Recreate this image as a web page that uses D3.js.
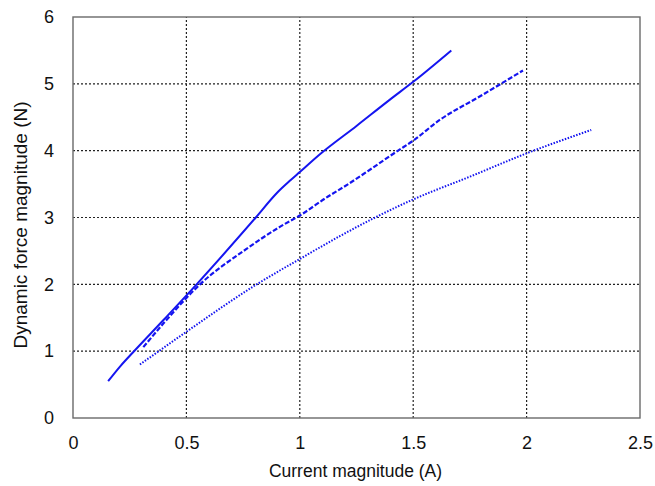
<!DOCTYPE html>
<html>
<head>
<meta charset="utf-8">
<script src="https://cdn.jsdelivr.net/npm/d3@7"></script>
<style>
  html, body { margin: 0; padding: 0; background: #fff; }
  svg { display: block; font-family: Arial, "Liberation Sans", sans-serif; }
</style>
</head>
<body>
<svg id="chart" width="655" height="486"></svg>
<script>
// Dynamic force versus current magnitude, three measured curves
const xTicks = [0, 0.5, 1, 1.5, 2, 2.5];
const yTicks = [0, 1, 2, 3, 4, 5, 6];

const solidCurrent = [0.155, 0.21, 0.264, 0.4, 0.545, 0.806, 0.9, 0.96, 1.0, 1.09, 1.25, 1.396, 1.5, 1.668];
const solidForce   = [0.55, 0.78, 0.98, 1.47, 2.0, 3.0, 3.37, 3.56, 3.68, 3.95, 4.37, 4.76, 5.03, 5.5];

const dashedCurrent = [0.31, 0.4, 0.56, 0.765, 0.912, 1.0, 1.132, 1.176, 1.433, 1.5, 1.617, 1.793, 1.984];
const dashedForce   = [1.06, 1.42, 2.0, 2.53, 2.86, 3.03, 3.33, 3.42, 4.0, 4.15, 4.46, 4.81, 5.2];

const dottedCurrent = [0.295, 0.5, 0.81, 1.0, 1.176, 1.338, 1.5, 1.749, 2.0, 2.285];
const dottedForce   = [0.80, 1.29, 2.0, 2.38, 2.72, 3.01, 3.27, 3.61, 3.96, 4.31];

const svg = d3.select("#chart");
const margin = { left: 73, right: 15, top: 17, bottom: 68 };
const W = 655, H = 486;

const x = d3.scaleLinear().domain([0, 2.5]).range([margin.left, W - margin.right]);
const y = d3.scaleLinear().domain([0, 6]).range([H - margin.bottom, margin.top]);

// dotted grid
const grid = svg.append("g").attr("stroke", "#222").attr("stroke-width", 1.2).attr("stroke-dasharray", "2,2");
grid.selectAll("line.vx").data(xTicks.slice(1, -1)).join("line")
  .attr("x1", d => x(d)).attr("x2", d => x(d))
  .attr("y1", y(0)).attr("y2", y(6));
grid.selectAll("line.hy").data(yTicks.slice(1, -1)).join("line")
  .attr("x1", x(0)).attr("x2", x(2.5))
  .attr("y1", d => y(d)).attr("y2", d => y(d));

// axes with labels only; the frame is drawn separately
const xAxis = svg.append("g").attr("transform", `translate(0,${y(0)})`)
  .call(d3.axisBottom(x).tickValues(xTicks).tickSize(0).tickPadding(18).tickFormat(d3.format("")));
const yAxis = svg.append("g").attr("transform", `translate(${x(0)},0)`)
  .call(d3.axisLeft(y).tickValues(yTicks).tickSize(0).tickPadding(19).tickFormat(d3.format("")));
[xAxis, yAxis].forEach(a => {
  a.select(".domain").remove();
  a.selectAll("text").attr("font-size", "18px").attr("fill", "#111")
    .attr("font-family", "Arial, 'Liberation Sans', sans-serif");
});

// plot frame
svg.append("rect")
  .attr("x", x(0)).attr("y", y(6))
  .attr("width", x(2.5) - x(0)).attr("height", y(0) - y(6))
  .attr("fill", "none").attr("stroke", "#6a6a6a").attr("stroke-width", 1.4);

// curves
const line = d3.line().x(d => x(d[0])).y(d => y(d[1])).curve(d3.curveMonotoneX);
const series = [
  { xs: solidCurrent, ys: solidForce, dash: null, width: 2 },
  { xs: dashedCurrent, ys: dashedForce, dash: "5,2", width: 2.2 },
  { xs: dottedCurrent, ys: dottedForce, dash: "1.5,1.5", width: 2 }
];
series.forEach(s => {
  svg.append("path")
    .datum(s.xs.map((v, i) => [v, s.ys[i]]))
    .attr("d", line)
    .attr("fill", "none")
    .attr("stroke", "#1515f0")
    .attr("stroke-width", s.width)
    .attr("stroke-dasharray", s.dash);
});

// axis titles
svg.append("text")
  .attr("x", 355.5).attr("y", 476.5)
  .attr("text-anchor", "middle")
  .attr("font-size", "17.5px").attr("fill", "#111")
  .text("Current magnitude (A)");
svg.append("text")
  .attr("transform", "translate(27,225) rotate(-90)")
  .attr("text-anchor", "middle")
  .attr("font-size", "19px").attr("fill", "#111")
  .text("Dynamic force magnitude (N)");
</script>
</body>
</html>
